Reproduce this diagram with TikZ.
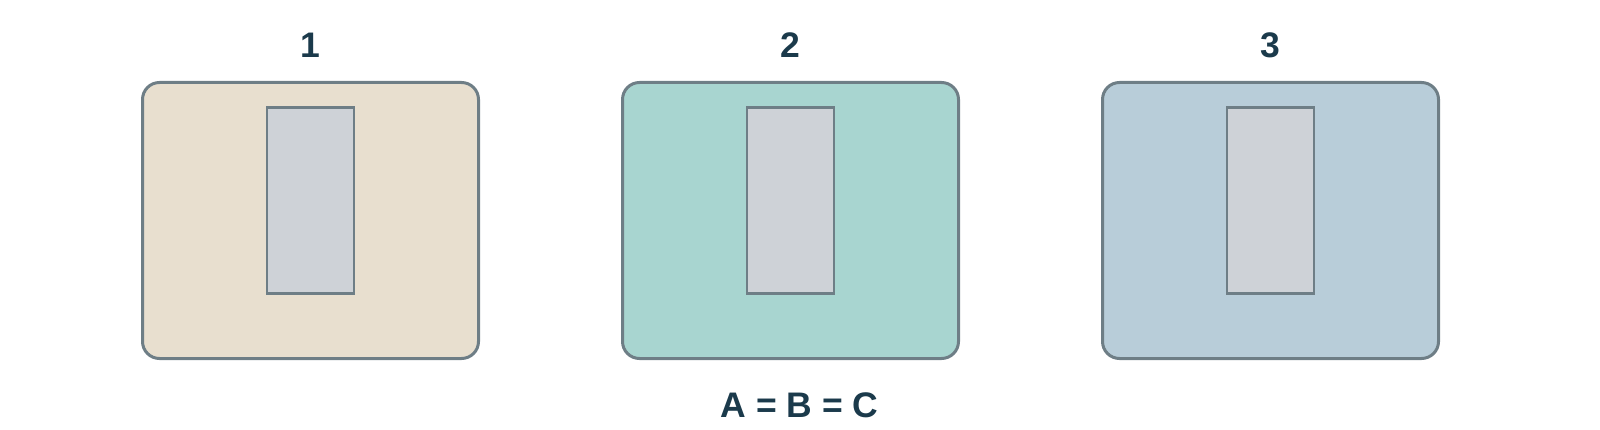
\documentclass[tikz,border=0pt]{standalone}
\usepackage{fontspec}
\setmainfont{Liberation Sans}
\usetikzlibrary{positioning}
\usepackage{xcolor}
\definecolor{edgegray}{HTML}{6E7E86}
\definecolor{slotgray}{HTML}{CED2D7}
\definecolor{sand}{HTML}{E8DFCF}
\definecolor{mint}{HTML}{A8D5D0}
\definecolor{steel}{HTML}{B8CDD9}
\definecolor{inkblue}{HTML}{1B3A4B}

\begin{document}
\begin{tikzpicture}[x=1pt,y=-1pt,
        panel/.style={draw=edgegray, line width=3pt, rounded corners=17pt, minimum width=336pt, minimum height=276pt, inner sep=0pt},
        slot/.style={draw=edgegray, line width=2.6pt, fill=slotgray, minimum width=87pt, minimum height=186pt, inner sep=0pt},
        numlabel/.style={text=inkblue, font=\fontsize{35.5}{40}\selectfont\bfseries}]
        \useasboundingbox (0,0) rectangle (1600,430);
        % Draw the three panels with their slots
        \foreach \i/\col in {1/sand,2/mint,3/steel} {
            \node[panel, fill=\col] (box\i) at ({310.5+480*(\i-1)},220.5) {};
            \node[slot] (slot\i) at ({310.5+480*(\i-1)},200.5) {};
            \node[numlabel] (num\i) at ({310+480*(\i-1)},45.5) {\i};
        }
        % Equality below the middle panel
        \node[numlabel] (eq) at (799.5,405) {A = B = C};
        \end{tikzpicture}
\end{document}
